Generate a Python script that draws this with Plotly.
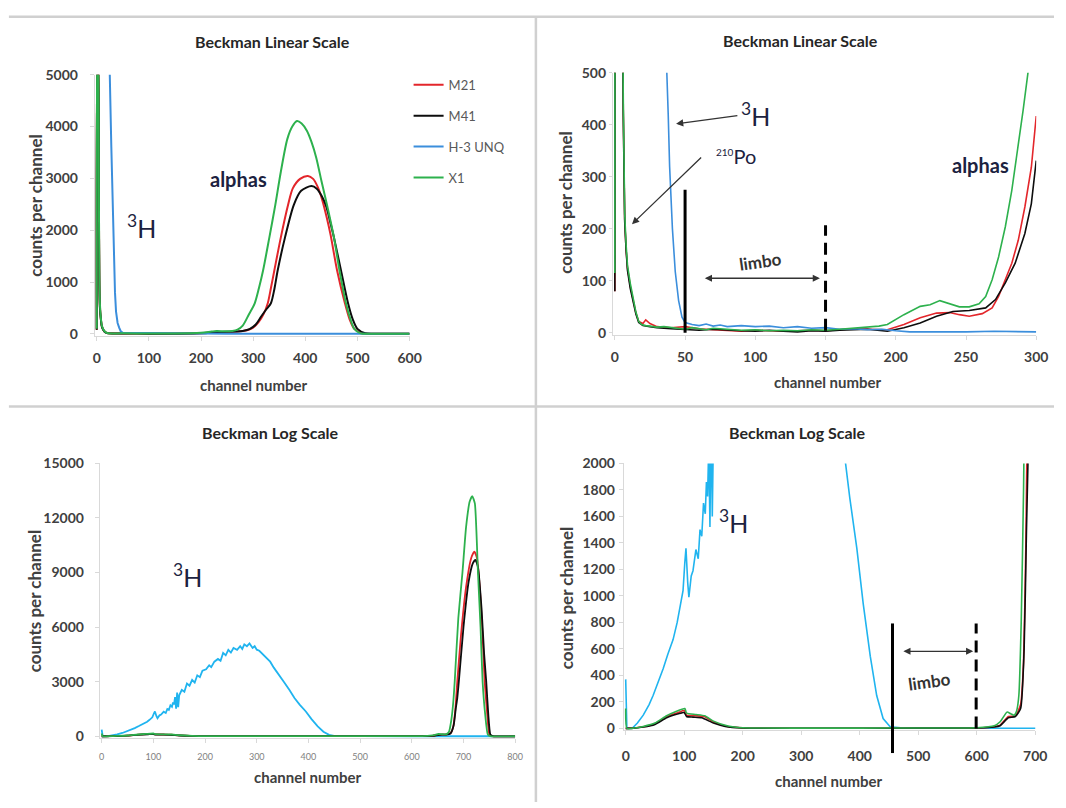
import plotly.graph_objects as go

W, H = 1066, 808
FONT = "Lato"

C_M21 = "#E3262B"
C_M41 = "#0D0D0D"
C_H3 = "#3B8EDC"
C_H3_LOG = "#20B4EF"
C_X1 = "#2DB14D"
TXT_DARK = "#1C2240"
AX_TXT = "#404040"

SERIES = ["M21", "M41", "H-3 UNQ", "X1"]

# ---------------- Panel 1: Beckman Linear Scale (channels 0-600) ----------------
p1_m21_x = [0, 1, 3, 4, 5, 6, 8, 10, 15, 20, 50, 100, 150, 200, 230, 250, 270, 280, 290, 300, 310, 320, 328,
            334, 340.6, 353, 367, 376, 390, 405, 415, 424, 432, 441, 448.7, 461, 476, 485, 494, 509, 530, 600]
p1_m21_y = [80, 5500, 5200, 2800, 1100, 550, 280, 140, 45, 15, 8, 5, 5, 12, 40, 35, 45, 55, 75, 120, 220, 380, 590,
            880, 1222, 1857, 2490, 2807, 2990, 3048, 2990, 2830, 2600, 2250, 1900, 1222, 590, 280, 95, 10, 2, 0]
p1_m41_x = [0, 1, 3, 4, 5, 6, 8, 10, 15, 20, 50, 100, 150, 200, 230, 250, 270, 280, 293, 305, 315, 325, 334,
            341, 347, 361, 378, 392, 412, 422, 432, 440.5, 448, 455, 468.5, 482, 491, 500, 515, 535, 600]
p1_m41_y = [80, 5300, 5000, 2600, 1000, 520, 270, 130, 42, 14, 7, 4, 4, 10, 30, 40, 45, 55, 90, 180, 330, 470, 590,
            880, 1222, 1857, 2490, 2760, 2851, 2800, 2650, 2450, 2150, 1857, 1222, 590, 280, 95, 10, 2, 0]
p1_h3_x = [18, 25, 28, 31, 33, 35, 37, 40, 43, 46, 50, 100, 150, 200, 250, 600]
p1_h3_y = [15000, 5000, 3600, 2300, 1500, 800, 430, 210, 120, 50, 20, 12, 8, 4, 2, 0]
p1_x1_x = [0, 1, 3, 4, 5, 6, 8, 10, 15, 20, 50, 100, 150, 200, 220, 230, 245, 260, 270, 280, 292, 303, 311, 319,
           331, 342.5, 353, 365.5, 375, 384, 393, 403, 412, 421, 431, 443.6, 455, 465.6, 478, 486, 494, 506, 530, 600]
p1_x1_y = [100, 6000, 5500, 3000, 1200, 600, 300, 150, 50, 15, 10, 8, 6, 20, 45, 55, 50, 55, 80, 160, 380, 590, 880, 1222,
           1857, 2490, 3124, 3758, 4000, 4106, 4060, 3920, 3700, 3400, 2950, 2400, 1857, 1222, 590, 300, 95, 10, 3, 0]

# ---------------- Panel 2: Beckman Linear Scale, zoom (channels 0-300) ----------------
p2_m21_x = [0, 1, 3, 4, 5, 6, 7, 8, 9, 11, 13, 15, 17, 20, 22, 25, 30, 40, 50, 60, 70, 80, 90, 100, 110, 120,
            130, 140, 150, 160, 170, 180, 194, 205.8, 217.4, 229, 238.4, 245.3, 252.3, 261.6, 268.6, 273.2, 278,
            282.6, 287.2, 291.9, 296.5, 300]
p2_m21_y = [80, 7500, 6500, 2800, 850, 430, 220, 160, 125, 90, 60, 38, 22, 18, 25, 18, 12, 10, 12, 8, 6, 5, 3, 5, 4, 3,
            4, 5, 4, 6, 8, 7, 6, 16, 29, 38, 39, 35, 32, 37, 48, 70, 102, 134, 178, 242, 318, 417]
p2_m41_x = [0, 1, 3, 4, 5, 6, 7, 8, 9, 11, 13, 15, 17, 20, 25, 30, 40, 50, 60, 70, 80, 90, 100, 110, 120, 130,
            140, 150, 160, 170, 180, 194, 205.8, 217.4, 229, 240.7, 252.3, 264, 271, 278, 285, 291.9, 296.5, 300]
p2_m41_y = [80, 7000, 6000, 2600, 800, 420, 215, 160, 120, 85, 58, 36, 20, 14, 12, 10, 8, 6, 5, 7, 5, 4, 3, 5, 3, 2,
            4, 3, 5, 6, 7, 3, 10, 19, 32, 41, 43, 48, 64, 96, 134, 191, 248, 331]
p2_h3_x = [32, 37, 38, 39, 41, 43, 45.4, 47.8, 50, 55, 60, 65, 70, 75, 80, 90, 100, 110, 120, 130, 140, 150,
           160, 170, 180, 190, 200, 210, 250, 270, 300]
p2_h3_y = [2000, 500, 420, 320, 200, 118, 62, 30, 20, 16, 14, 17, 13, 15, 12, 14, 12, 13, 10, 12, 9, 10, 7, 8, 6, 7,
           4, 2, 2, 3, 2]
p2_x1_x = [0, 1, 3, 4, 5, 6, 7, 8, 9, 11, 13, 15, 17, 19, 22, 26, 30, 35, 40, 45, 50, 55, 60, 65, 70, 80, 90,
           100, 110, 120, 130, 140, 150, 160, 170, 180, 188, 194, 205.8, 217.4, 224.4, 231.4, 238.4, 245.3, 252.3,
           259.3, 264, 268.6, 273.2, 278, 282.6, 287.2, 290.6, 294.1, 297]
p2_x1_y = [115, 8000, 7000, 3000, 900, 450, 230, 170, 130, 95, 65, 40, 22, 16, 14, 12, 11, 12, 10, 9, 7, 10, 8, 6,
           9, 7, 5, 6, 4, 5, 4, 6, 5, 7, 9, 10, 13, 16, 35, 51, 54, 62, 56, 50, 50, 56, 70, 102, 146, 204, 274, 357,
           427, 500, 560]

# ---------------- Panels 3 & 4: Beckman Log Scale (channels 0-800) ----------------
log_m21_x = [0, 2, 30, 50, 70, 90, 100, 104, 120, 135, 150, 172, 200, 300, 400, 500, 600, 630, 640, 654, 666, 675,
             680, 684, 688, 695, 705, 715, 721, 726, 732, 737, 741, 746, 750, 755, 800]
log_m21_y = [0, 0, 12, 35, 88, 120, 135, 100, 95, 88, 48, 16, 4, 1, 1, 2, 3, 12, 25, 90, 95, 180, 500, 1400, 3000,
             5500, 8200, 9800, 10150, 9800, 8000, 5500, 3000, 1200, 100, 10, 0]
log_m41_x = [0, 2, 10, 30, 50, 70, 90, 100, 104, 115, 130, 150, 170, 200, 300, 400, 500, 600, 630, 640, 654, 666,
             675, 681, 685, 688, 691, 700, 710, 718, 723, 728, 735, 740, 744, 748, 752, 757, 800]
log_m41_y = [0, 0, 0, 10, 30, 80, 110, 120, 90, 85, 80, 40, 15, 3, 1, 1, 2, 3, 10, 20, 80, 90, 150, 600, 1500, 2100,
             3000, 6000, 8500, 9500, 9700, 9300, 7000, 4500, 3000, 1200, 100, 10, 0]
log_h3_x = [0, 2, 12, 20, 30, 40, 47, 55, 64, 72, 81, 88, 92, 98, 101, 103, 106, 108, 112, 115, 120, 124, 127, 130,
            133, 136, 138, 140, 142, 144, 146, 148, 150, 155, 160, 165, 170, 175, 180, 185, 190, 195, 202, 208, 212,
            218, 225, 230, 235, 240, 245, 250, 255, 262, 268, 272, 276, 281, 286, 292, 296, 300, 305, 312, 320, 326,
            333, 343, 353, 363, 373, 383, 395, 406, 418, 429, 440, 452, 470, 500, 600, 800]
log_h3_y = [370, 0, 5, 40, 100, 180, 250, 340, 450, 560, 670, 800, 890, 1040, 1250, 1360, 1100, 990, 1150, 1190,
            1350, 1280, 1500, 1450, 1700, 1620, 1860, 1750, 2150, 1520, 2400, 1600, 2250, 2550, 2450, 2900, 2780,
            3100, 2950, 3350, 3250, 3600, 3683, 3900, 3800, 4100, 4250, 4150, 4580, 4450, 4750, 4600, 4850, 4750,
            4950, 4800, 5050, 4950, 5100, 4850, 4950, 4760, 4700, 4500, 4311, 4100, 3772, 3400, 2964, 2550, 2100,
            1740, 1361, 940, 545, 248, 74, 12, 5, 2, 0, 0]
log_x1_x = [0, 2, 15, 30, 50, 70, 85, 101, 104, 120, 135, 150, 175, 200, 300, 400, 500, 600, 630, 640, 652, 658,
            664, 668, 672, 676, 680, 683, 690, 698, 705, 712, 717, 722, 728, 733, 737, 742, 747, 752, 800]
log_x1_y = [150, 0, 3, 15, 40, 95, 125, 150, 115, 105, 95, 55, 18, 5, 2, 2, 3, 5, 20, 50, 124, 110, 100, 130, 250,
            800, 1800, 3000, 6500, 9000, 11500, 12900, 13200, 12800, 9000, 6000, 3000, 1200, 100, 10, 0]

# limbo window markers (channel, top count)
p2_limbo = [50, 150]
p2_limbo_top = [275, 207]
p2_limbo_arrow = [63, 146, 105]
p4_limbo = [456, 599]
p4_limbo_top = [792, 792]
p4_limbo_bottom = -186
p4_limbo_arrow = [472, 594, 582]

fig = go.Figure()


def add(x, y, name, color, xa, ya, width, legend=False, smooth=0):
    line = dict(color=color, width=width)
    if smooth:
        line.update(shape="spline", smoothing=smooth)
    fig.add_trace(go.Scatter(
        x=x, y=y, mode="lines", name=name, line=line,
        xaxis=xa, yaxis=ya, showlegend=legend,
        legendgroup=name, hoverinfo="skip"))


add(p1_m21_x, p1_m21_y, SERIES[0], C_M21, "x", "y", 2, True, 0.8)
add(p1_m41_x, p1_m41_y, SERIES[1], C_M41, "x", "y", 2, True, 0.8)
add(p1_h3_x, p1_h3_y, SERIES[2], C_H3, "x", "y", 2, True)
add(p1_x1_x, p1_x1_y, SERIES[3], C_X1, "x", "y", 2, True, 0.8)

add(p2_m21_x, p2_m21_y, SERIES[0], C_M21, "x2", "y2", 1.6)
add(p2_m41_x, p2_m41_y, SERIES[1], C_M41, "x2", "y2", 1.6)
add(p2_h3_x, p2_h3_y, SERIES[2], C_H3, "x2", "y2", 1.6)
add(p2_x1_x, p2_x1_y, SERIES[3], C_X1, "x2", "y2", 1.6)

add(log_h3_x, log_h3_y, SERIES[2], C_H3_LOG, "x3", "y3", 1.8)
add(log_m21_x, log_m21_y, SERIES[0], C_M21, "x3", "y3", 1.8, smooth=0.5)
add(log_m41_x, log_m41_y, SERIES[1], C_M41, "x3", "y3", 1.8, smooth=0.5)
add(log_x1_x, log_x1_y, SERIES[3], C_X1, "x3", "y3", 1.8, smooth=0.5)

add(log_h3_x, log_h3_y, SERIES[2], C_H3_LOG, "x4", "y4", 1.6)
add(log_m21_x, log_m21_y, SERIES[0], C_M21, "x4", "y4", 1.6, smooth=0.5)
add(log_m41_x, log_m41_y, SERIES[1], C_M41, "x4", "y4", 1.6, smooth=0.5)
add(log_x1_x, log_x1_y, SERIES[3], C_X1, "x4", "y4", 1.6, smooth=0.5)


def xax(zero_px, max_px, vmax, dtick, anchor, tsize=14, tcolor=AX_TXT, bold=True, pad=2, standoff=5):
    s = vmax / (max_px - zero_px)
    return dict(domain=[(zero_px - pad) / W, max_px / W], range=[-pad * s, vmax], dtick=dtick, tick0=0,
                anchor=anchor, showline=True, linecolor="#D9D9D9", linewidth=1, ticks="outside",
                ticklen=4, tickcolor="#D9D9D9", showgrid=False, zeroline=False, tickformat="d",
                ticklabelstandoff=standoff,
                tickfont=dict(family=FONT, size=tsize, color=tcolor, weight="bold" if bold else "normal"))


def yax(top_px, zero_px, vmax, dtick, anchor, tsize=14, pad=2, standoff=8, ticklen=4):
    s = vmax / (zero_px - top_px)
    return dict(domain=[1 - (zero_px + pad) / H, 1 - top_px / H], range=[-pad * s, vmax], dtick=dtick, tick0=0,
                anchor=anchor, showline=True, linecolor="#D9D9D9", linewidth=1, ticks="outside",
                ticklen=ticklen, tickcolor="#D9D9D9", showgrid=False, zeroline=False, tickformat="d",
                ticklabelstandoff=standoff,
                tickfont=dict(family=FONT, size=tsize, color=AX_TXT, weight="bold"))


xa1 = xax(96, 413, 600, 100, "y")
ya1 = yax(67, 331, 5000, 1000, "x", standoff=9)
xa2 = xax(621, 1048, 300, 50, "y2")
ya2 = yax(65, 330, 500, 100, "x2", standoff=0, ticklen=3)
xa3 = xax(101, 520, 800, 100, "y3", tsize=9, tcolor="#7F7F7F", bold=False, standoff=6)
ya3 = yax(463, 741, 15000, 3000, "x3", tsize=14, standoff=8)
xa4 = xax(632, 1047, 700, 100, "y4", standoff=9)
ya4 = yax(463, 733, 2000, 200, "x4", standoff=1)


def pxx(v):
    return v / W


def pyy(v):
    return 1 - v / H


annotations = []


def label(xp, yp, text, size, color=AX_TXT, bold=True, angle=0):
    annotations.append(dict(x=pxx(xp), y=pyy(yp), xref="paper", yref="paper", text=text, showarrow=False,
                            xanchor="center", yanchor="middle", textangle=angle,
                            font=dict(family=FONT, size=size, color=color,
                                      weight="bold" if bold else "normal")))


for xp, yp, t in [(274, 33, "Beckman Linear Scale"), (809, 32, "Beckman Linear Scale"),
                  (272, 432, "Beckman Log Scale"), (806, 432, "Beckman Log Scale")]:
    label(xp, yp, t, 16, color="#262626")
for xp, yp in [(255, 383), (837, 380), (310, 783), (838, 787)]:
    label(xp, yp, "channel number", 15)
for xp, yp in [(34, 200), (571, 197), (33, 603), (572, 600)]:
    label(xp, yp, "counts per channel", 17, angle=-90)

label(240, 173, "alphas", 20, color=TXT_DARK)
label(992, 159, "alphas", 20, color=TXT_DARK)
for xp, yp in [(141, 222), (764, 107), (188, 577), (741, 522)]:
    label(xp, yp, "<sup>3</sup>H", 25, color=TXT_DARK, bold=False)
label(744, 150, "<sup><span style='font-size:10px'>210</span></sup>Po", 20, color=TXT_DARK, bold=False)
label(768, 257, "limbo", 17, color="#333333", angle=-8)
label(939, 685, "limbo", 17, color="#333333", angle=-8)

# arrows pointing at features (data coordinates)
annotations.append(dict(x=43.6, y=402, ax=88.3, ay=418, xref="x2", yref="y2", axref="x2", ayref="y2",
                        text="", showarrow=True, arrowhead=2, arrowsize=1.1, arrowwidth=1.3, arrowcolor="#333333"))
annotations.append(dict(x=12.2, y=209, ax=62.5, ay=340, xref="x2", yref="y2", axref="x2", ayref="y2",
                        text="", showarrow=True, arrowhead=2, arrowsize=1.1, arrowwidth=1.3, arrowcolor="#333333"))
annotations.append(dict(x=p2_limbo_arrow[1], y=p2_limbo_arrow[2], ax=p2_limbo_arrow[0], ay=p2_limbo_arrow[2],
                        xref="x2", yref="y2", axref="x2", ayref="y2", text="", showarrow=True,
                        arrowhead=2, arrowside="end+start", arrowsize=1.1, arrowwidth=1.3, arrowcolor="#333333"))
annotations.append(dict(x=p4_limbo_arrow[1], y=p4_limbo_arrow[2], ax=p4_limbo_arrow[0], ay=p4_limbo_arrow[2],
                        xref="x4", yref="y4", axref="x4", ayref="y4", text="", showarrow=True,
                        arrowhead=2, arrowside="end+start", arrowsize=1.1, arrowwidth=1.3, arrowcolor="#333333"))

shapes = []
# frame separators
for x0, y0, x1, y1 in [(7, 8, W, 8), (541, 8, 541, H), (7, 405, W, 405)]:
    shapes.append(dict(type="line", xref="paper", yref="paper", x0=pxx(x0), y0=pyy(y0), x1=pxx(x1), y1=pyy(y1),
                       line=dict(color="#D0D0D0", width=2.5)))

# panel 2 limbo boundaries
shapes.append(dict(type="line", xref="x2", yref="y2", x0=p2_limbo[0], x1=p2_limbo[0], y0=0, y1=p2_limbo_top[0],
                   line=dict(color="black", width=3)))
shapes.append(dict(type="line", xref="x2", yref="y2", x0=p2_limbo[1], x1=p2_limbo[1], y0=4, y1=p2_limbo_top[1],
                   line=dict(color="black", width=3, dash="12px,7px")))


# panel 4 limbo boundaries (solid one runs past the axis)
def frac(v, rng):
    return (v - rng[0]) / (rng[1] - rng[0])


shapes.append(dict(type="line", xref="x4 domain", yref="y4 domain",
                   x0=frac(p4_limbo[0], xa4["range"]), x1=frac(p4_limbo[0], xa4["range"]),
                   y0=frac(p4_limbo_bottom, ya4["range"]), y1=frac(p4_limbo_top[0], ya4["range"]),
                   line=dict(color="black", width=3)))
shapes.append(dict(type="line", xref="x4 domain", yref="y4 domain",
                   x0=frac(p4_limbo[1], xa4["range"]), x1=frac(p4_limbo[1], xa4["range"]),
                   y0=frac(0, ya4["range"]), y1=frac(p4_limbo_top[1], ya4["range"]),
                   line=dict(color="black", width=3, dash="12px,7px")))

fig.update_layout(
    width=W, height=H, margin=dict(l=0, r=0, t=0, b=0),
    paper_bgcolor="white", plot_bgcolor="white",
    font=dict(family=FONT),
    xaxis=xa1, yaxis=ya1, xaxis2=xa2, yaxis2=ya2, xaxis3=xa3, yaxis3=ya3, xaxis4=xa4, yaxis4=ya4,
    annotations=annotations, shapes=shapes,
    legend=dict(x=pxx(412), y=pyy(62), xanchor="left", yanchor="top", bgcolor="rgba(0,0,0,0)",
                font=dict(family=FONT, size=13, color="#595959"), tracegroupgap=11,
                traceorder="grouped", itemwidth=30),
)

fig.write_html("out.html")
